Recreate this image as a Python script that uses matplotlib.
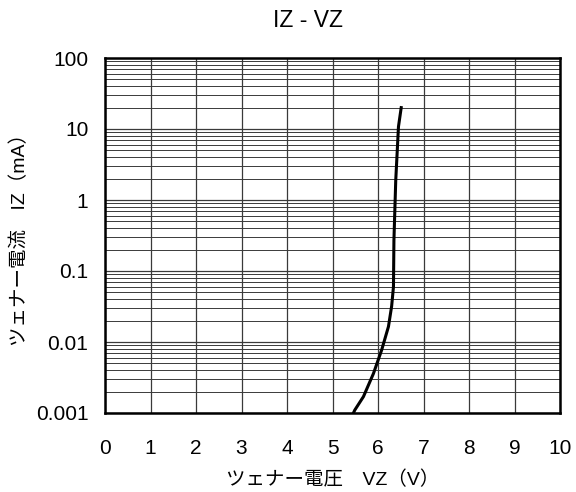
import matplotlib
matplotlib.use("Agg")
import matplotlib.pyplot as plt
import numpy as np
from matplotlib.ticker import FixedLocator, NullFormatter

plt.rcParams['font.family'] = ['Liberation Sans', 'Noto Sans CJK JP', 'DejaVu Sans']

# Data
vz = [5.46, 5.49, 5.68, 5.90, 6.08, 6.23, 6.30, 6.34, 6.35, 6.39, 6.45, 6.51]
iz = [0.001, 0.0011, 0.0017, 0.0036, 0.0077, 0.0165, 0.032, 0.06, 0.27, 1.9, 10.8, 20]

x_ticks = [0, 1, 2, 3, 4, 5, 6, 7, 8, 9, 10]
y_ticks = [0.001, 0.01, 0.1, 1, 10, 100]
y_tick_labels = ["0.001", "0.01", "0.1", "1", "10", "100"]

title = "IZ - VZ"
xlabel = "ツェナー電圧　VZ（V）"
ylabel = "ツェナー電流　IZ（mA）"

fig = plt.figure(figsize=(5.76, 4.92), dpi=100)
ax = fig.add_axes([105/576, 1 - 413/492, (560-105)/576, (413-58)/492])

ax.set_yscale('log')
ax.set_xlim(0, 10)
ax.set_ylim(0.001, 100)

ax.set_xticks(x_ticks)
ax.set_xticklabels([str(t) for t in x_ticks])
ax.set_yticks(y_ticks)
ax.set_yticklabels(y_tick_labels)
minors = [m * 10.0**e for e in range(-3, 2) for m in range(2, 10)]
ax.yaxis.set_minor_locator(FixedLocator(minors))
ax.yaxis.set_minor_formatter(NullFormatter())

ax.grid(True, which='major', axis='both', color='#3a3a3a', linewidth=0.9)
ax.grid(True, which='minor', axis='y', color='#3a3a3a', linewidth=0.7)
ax.set_axisbelow(True)

ax.tick_params(axis='both', which='both', length=0, labelsize=15)
ax.tick_params(axis='x', pad=18.5)
ax.tick_params(axis='y', pad=12)

for s in ax.spines.values():
    s.set_linewidth(1.8)
    s.set_color('black')

ax.plot(vz, iz, color='black', linewidth=2.2, zorder=3)

ax.set_title(title, fontsize=16.5, pad=22, x=(308-105)/455)
ax.set_xlabel(xlabel, fontsize=14, labelpad=9.5)
ax.set_ylabel(ylabel, fontsize=14, labelpad=5)

fig.savefig("out.png", dpi=100)
